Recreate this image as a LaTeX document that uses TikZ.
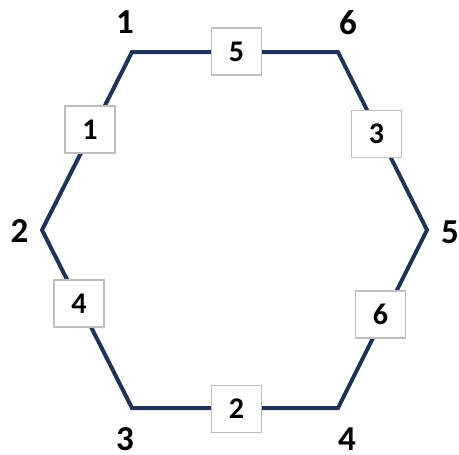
\documentclass[tikz,border=0pt]{standalone}
\usepackage{fontspec}
\setmainfont{Carlito}
\definecolor{navy}{HTML}{1F3359}
\definecolor{boxgray}{HTML}{BFBFBF}
\begin{document}
\begin{tikzpicture}[x=1pt,y=-1pt,
  edge/.style={draw=navy,line width=4pt,line join=miter},
  lbl/.style={draw=boxgray,line width=1.3pt,fill=white,minimum width=50pt,minimum height=47pt,inner sep=0pt,font=\fontsize{30}{30}\selectfont\bfseries},
  vlbl/.style={inner sep=0pt,font=\fontsize{35}{35}\selectfont\bfseries}]
\useasboundingbox (0,0) rectangle (459,455);
\coordinate (v1) at (132,52);
\coordinate (v6) at (338,52);
\coordinate (v5) at (427,230);
\coordinate (v4) at (338,408);
\coordinate (v3) at (132,408);
\coordinate (v2) at (42,230);
\draw[edge] (v1) -- (v6) -- (v5) -- (v4) -- (v3) -- (v2) -- cycle;
\node[lbl] (e5) at (236.5,51.5) {5};
\node[lbl] (e1) at (90,129.5) {1};
\node[lbl] (e3) at (376.5,134) {3};
\node[lbl] (e4) at (79,303.5) {4};
\node[lbl] (e6) at (380.5,314.5) {6};
\node[lbl] (e2) at (236.5,409) {2};
\node[vlbl] (n1) at (125,22) {1};
\node[vlbl] (n6) at (348,23) {6};
\node[vlbl] (n5) at (450,232) {5};
\node[vlbl] (n4) at (347,439) {4};
\node[vlbl] (n3) at (125,439) {3};
\node[vlbl] (n2) at (19.5,231) {2};
\end{tikzpicture}
\end{document}
